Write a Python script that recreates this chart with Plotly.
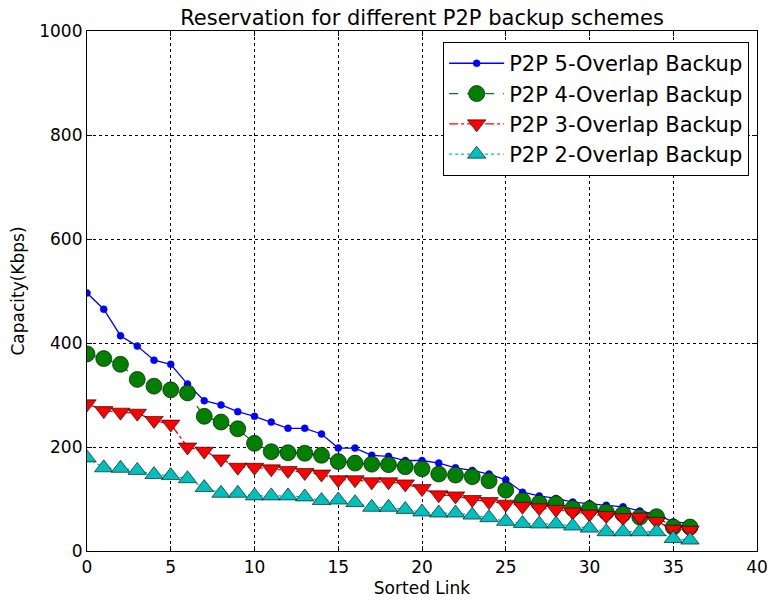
import plotly.graph_objects as go

# Sorted link index
links = list(range(37))

# Reserved capacity (Kbps) per sorted link for each backup scheme
overlap5 = [496, 465, 414, 394, 367, 359, 321, 289, 281, 268,
            259, 248, 236, 236, 225, 198, 198, 184, 182, 174,
            174, 169, 160, 155, 148, 137, 113, 106, 101, 94,
            91, 88, 85, 77, 70, 56, 53]
overlap4 = [379, 370, 359, 330, 317, 310, 304, 259, 248, 235,
            207, 191, 189, 188, 184, 172, 169, 167, 166, 162,
            158, 148, 146, 143, 135, 117, 97, 92, 91, 82,
            81, 75, 71, 65, 66, 46, 46]
overlap3 = [283, 270, 267, 265, 251, 244, 200, 192, 177, 161,
            161, 158, 155, 151, 148, 137, 137, 133, 133, 129,
            120, 108, 106, 99, 95, 90, 86, 83, 80, 75,
            71, 68, 64, 65, 57, 42, 40]
overlap2 = [179, 160, 159, 155, 147, 145, 139, 122, 111, 111,
            106, 106, 106, 104, 97, 98, 93, 84, 84, 80,
            75, 73, 73, 69, 64, 57, 53, 52, 52, 48,
            44, 37, 37, 37, 37, 24, 21]

FONT = "DejaVu Sans"

fig = go.Figure()

fig.add_trace(go.Scatter(
    x=links, y=overlap5, name="P2P 5-Overlap Backup", mode="lines+markers",
    line=dict(color="#0000ff", width=1.3, dash="solid"),
    marker=dict(symbol="circle", size=7, color="#0000ff",
                line=dict(color="#0000ff", width=0.5)),
))
fig.add_trace(go.Scatter(
    x=links, y=overlap4, name="P2P 4-Overlap Backup", mode="lines+markers",
    line=dict(color="#008000", width=1.3, dash="dash"),
    marker=dict(symbol="circle", size=16, color="#008000",
                line=dict(color="#000000", width=0.6)),
))
fig.add_trace(go.Scatter(
    x=links, y=overlap3, name="P2P 3-Overlap Backup", mode="lines+markers",
    line=dict(color="#ff0000", width=1.3, dash="dashdot"),
    marker=dict(symbol="triangle-down", size=16, color="#ff0000",
                line=dict(color="#000000", width=0.6)),
))
fig.add_trace(go.Scatter(
    x=links, y=overlap2, name="P2P 2-Overlap Backup", mode="lines+markers",
    line=dict(color="#00bfbf", width=1.3, dash="dot"),
    marker=dict(symbol="triangle-up", size=16, color="#00bfbf",
                line=dict(color="#000000", width=0.6)),
))

axis_common = dict(
    showline=True, linecolor="black", linewidth=1.2, mirror="ticks",
    ticks="inside", ticklen=5, tickcolor="black", tickwidth=1,
    showgrid=True, gridcolor="black", gridwidth=0.6, griddash="dot",
    zeroline=False, automargin=False,
    tickfont=dict(family=FONT, size=17, color="black"),
)

fig.update_layout(
    width=771, height=607,
    margin=dict(l=87, r=14, t=31, b=56),
    paper_bgcolor="white", plot_bgcolor="white",
    font=dict(family=FONT, color="black"),
    title=dict(text="Reservation for different P2P backup schemes",
               x=0.5, xref="paper", xanchor="center",
               y=1, yref="paper", yanchor="bottom", pad=dict(b=6),
               font=dict(family=FONT, size=21, color="black")),
    xaxis=dict(range=[0, 40], dtick=5, tick0=0,
               title=dict(text="Sorted Link", standoff=6,
                          font=dict(family=FONT, size=17)),
               **axis_common),
    yaxis=dict(range=[0, 1000], dtick=200, tick0=0,
               title=dict(text="Capacity(Kbps)", standoff=10,
                          font=dict(family=FONT, size=17)),
               **axis_common),
    legend=dict(x=0.988, y=0.979, xanchor="right", yanchor="top",
                bgcolor="white", bordercolor="black", borderwidth=1.2,
                font=dict(family=FONT, size=21, color="black"),
                itemwidth=55, tracegroupgap=0),
    showlegend=True,
)

fig.write_html("out.html")
